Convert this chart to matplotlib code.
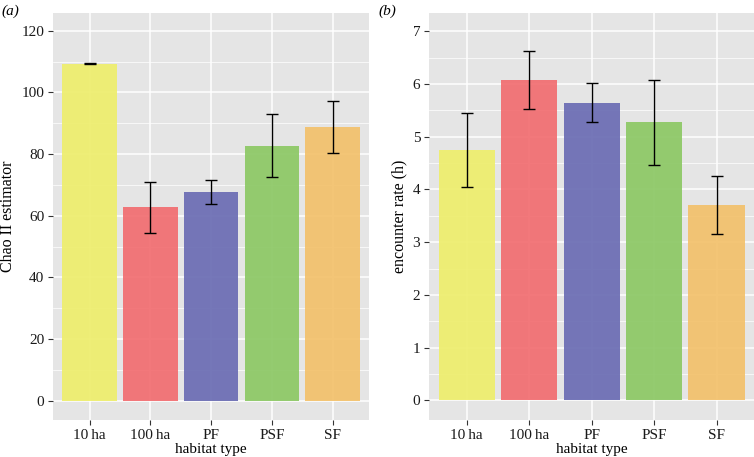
import matplotlib.pyplot as plt
import matplotlib.ticker as mticker
import numpy as np

plt.rcParams['font.family'] = ['Liberation Serif', 'DejaVu Serif']
plt.rcParams['font.size'] = 11

# data
habitats = ['10\u2009ha', '100\u2009ha', 'PF', 'PSF', 'SF']
colors = ['#EEEE6C', '#F26D70', '#6A6CB3', '#8CC864', '#F3C16B']

chao = [109.4, 62.7, 67.6, 82.7, 88.7]
chao_lo = [109.1, 54.3, 63.8, 72.5, 80.3]
chao_hi = [109.7, 71.1, 71.6, 93.0, 97.2]

rate = [4.75, 6.08, 5.63, 5.27, 3.70]
rate_lo = [4.05, 5.53, 5.27, 4.47, 3.16]
rate_hi = [5.45, 6.63, 6.02, 6.08, 4.25]

W, H = 754, 457
fig = plt.figure(figsize=(W / 100, H / 100), dpi=100)
ax1 = fig.add_axes([53.3 / W, 37 / H, (369 - 53.3) / W, (420 - 12.7) / H])
ax2 = fig.add_axes([429.3 / W, 37 / H, (754 - 429.3) / W, (420 - 12.7) / H])


def panel(ax, vals, lo, hi, ylim, major, ylabel):
    x = np.arange(1, len(habitats) + 1)
    ax.set_facecolor('#E5E5E5')
    for s in ax.spines.values():
        s.set_visible(False)
    yerr = [np.array(vals) - np.array(lo), np.array(hi) - np.array(vals)]
    ax.bar(x, vals, width=0.9, color=colors, alpha=0.92, zorder=2)
    ax.errorbar(x, vals, yerr=yerr, fmt='none', ecolor='black', elinewidth=1,
                capsize=4.5, capthick=1, zorder=3)
    ax.set_xlim(0.4, 5.6)
    ax.set_ylim(*ylim)
    ax.set_xticks(x)
    ax.set_xticklabels(habitats)
    ax.yaxis.set_major_locator(mticker.MultipleLocator(major))
    ax.yaxis.set_minor_locator(mticker.MultipleLocator(major / 2))
    ax.grid(True, which='major', color='white', lw=1.1, zorder=0)
    ax.grid(True, which='minor', axis='y', color='white', lw=0.5, zorder=0)
    ax.set_axisbelow(True)
    ax.tick_params(which='major', length=3.5, color='#333333', labelsize=11,
                   labelcolor='#1a1a1a', pad=3)
    ax.tick_params(which='minor', length=0)
    ax.set_xlabel('habitat type', fontsize=11, labelpad=1)
    ax.set_ylabel(ylabel, fontsize=11.5, labelpad=4)


panel(ax1, chao, chao_lo, chao_hi, (-6.3, 125.9), 20, 'Chao II estimator')
panel(ax2, rate, rate_lo, rate_hi, (-0.37, 7.35), 1, 'encounter rate (h)')

fig.text(1 / W, 1 - 11 / H, '(a)', fontsize=11, style='italic', va='center')
fig.text(378 / W, 1 - 11 / H, '(b)', fontsize=11, style='italic', va='center')

fig.savefig('out.png', dpi=100)
